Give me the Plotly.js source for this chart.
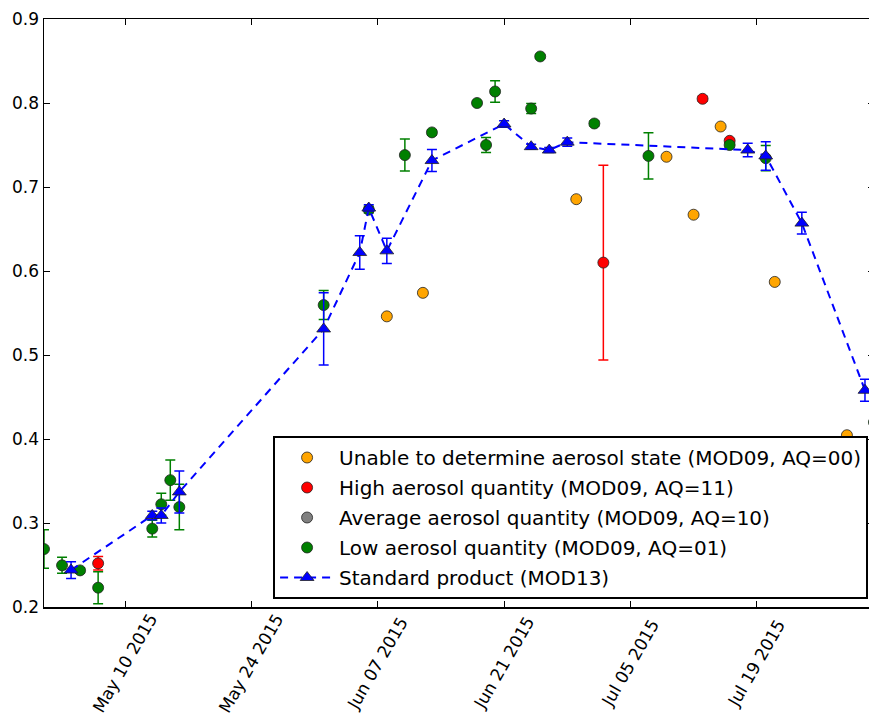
<!DOCTYPE html>
<html><head><meta charset="utf-8">
<script src="https://cdn.plot.ly/plotly-3.0.1.min.js"></script>
<style>html,body{margin:0;padding:0;overflow:hidden;background:#fff;} #chart{width:880px;height:719px;}</style>
</head><body><div id="chart"></div>
<script>
// MOD09, AQ=00 (unable to determine)
const unableDates = ['2015-06-08','2015-06-12','2015-06-29','2015-07-09','2015-07-12','2015-07-15','2015-07-21','2015-07-29'];
const unableValues = [0.546,0.574,0.6855,0.736,0.667,0.772,0.587,0.4045];

// MOD09, AQ=11 (high)
const highDates = ['2015-05-07','2015-07-02','2015-07-13','2015-07-16'];
const highValues = [0.252,0.610,0.805,0.755];
const highErrors = [0.008,0.116,0.003,0.002];

// MOD09, AQ=10 (average) - no points in view
const averageDates = [null];
const averageValues = [null];

// MOD09, AQ=01 (low)
const lowDates = ['2015-05-01','2015-05-03','2015-05-05','2015-05-07','2015-05-13','2015-05-14','2015-05-15','2015-05-16',
  '2015-06-01','2015-06-06','2015-06-10','2015-06-13','2015-06-18','2015-06-19','2015-06-20','2015-06-24','2015-06-25',
  '2015-07-01','2015-07-07','2015-07-16','2015-07-20','2015-08-01'];
const lowValues = [0.269,0.2496,0.2436,0.223,0.2933,0.3223,0.351,0.319,
  0.5595,0.673,0.738,0.765,0.800,0.750,0.8137,0.7934,0.8554,
  0.7756,0.737,0.750,0.7343,0.420];
const lowErrors = [0.023,0.0095,0.003,0.019,0.010,0.013,0.024,0.027,
  0.0172,0.004,0.019,0.003,0.002,0.009,0.0127,0.006,0.002,
  0.003,0.0276,0.003,0.015,0.01];

// MOD13 standard product
const mod13Dates = ['2015-05-04','2015-05-13','2015-05-14','2015-05-16','2015-06-01','2015-06-05','2015-06-06','2015-06-08',
  '2015-06-13','2015-06-21','2015-06-24','2015-06-26','2015-06-28','2015-07-18','2015-07-20','2015-07-24','2015-07-31'];
const mod13Values = [0.244,0.309,0.309,0.337,0.531,0.622,0.675,0.624,
  0.7315,0.775,0.748,0.744,0.7534,0.744,0.737,0.657,0.458];
const mod13Errors = [0.010,0.005,0.009,0.025,0.043,0.020,0.004,0.015,
  0.013,0.004,0.003,0.003,0.005,0.008,0.017,0.013,0.013];

const tickDates = ['2015-05-10','2015-05-24','2015-06-07','2015-06-21','2015-07-05','2015-07-19'];
const tickLabels = ['May 10 2015','May 24 2015','Jun 07 2015','Jun 21 2015','Jul 05 2015','Jul 19 2015'];
const yTickVals = [0.2,0.3,0.4,0.5,0.6,0.7,0.8,0.9];
const yTickText = ['0.2','0.3','0.4','0.5','0.6','0.7','0.8','0.9'];

const FONT = 'DejaVu Sans, sans-serif';
const edge = {color:'#222', width:0.8};

function circleTrace(name, x, y, color, errs, group){
  const t = {type:'scatter', mode:'markers', name:name, x:x, y:y, legendgroup:group,
    marker:{symbol:'circle', size:11, color:color, line:edge}};
  if (errs) t.error_y = {type:'data', array:errs, visible:true, color:color, thickness:1.5, width:5};
  return t;
}

const data = [
  circleTrace('Unable to determine aerosol state (MOD09, AQ=00)', unableDates, unableValues, '#FFA500', null, 'g1'),
  circleTrace('High aerosol quantity (MOD09, AQ=11)', highDates, highValues, '#FF0000', highErrors, 'g2'),
  circleTrace('Average aerosol quantity (MOD09, AQ=10)', averageDates, averageValues, '#808080', null, 'g3'),
  circleTrace('Low aerosol quantity (MOD09, AQ=01)', lowDates, lowValues, '#008000', lowErrors, 'g4'),
  {type:'scatter', mode:'lines+markers', name:'Standard product (MOD13)', x:mod13Dates, y:mod13Values, legendgroup:'g5',
    line:{color:'#0000FF', width:2, dash:'8px,6px'},
    marker:{symbol:'triangle-up', size:12, color:'#0000FF', line:edge},
    error_y:{type:'data', array:mod13Errors, visible:true, color:'#0000FF', thickness:1.5, width:5}}
];

const annotations = tickDates.map((d,i)=>({
  x:d, xref:'x', y:-0.096, yref:'paper', text:tickLabels[i], showarrow:false,
  textangle:-60, xanchor:'center', yanchor:'middle', font:{family:FONT, size:17, color:'#000'}
}));

const layout = {
  width:880, height:719,
  margin:{l:44, r:6, t:19, b:112},
  paper_bgcolor:'#fff', plot_bgcolor:'#fff',
  font:{family:FONT, size:17, color:'#000'},
  showlegend:true,
  xaxis:{type:'date', range:['2015-05-01','2015-08-01'], tickvals:tickDates, ticktext:tickLabels,
    showticklabels:false, ticks:'inside', ticklen:6, tickwidth:1, tickcolor:'#000',
    showline:true, linecolor:'#000', linewidth:1.5, mirror:'ticks', showgrid:false, zeroline:false},
  yaxis:{range:[0.2,0.9], tickvals:yTickVals, ticktext:yTickText, ticks:'inside', ticklen:6, tickwidth:1, tickcolor:'#000',
    showline:true, linecolor:'#000', linewidth:1.5, mirror:'ticks', showgrid:false, zeroline:false,
    tickfont:{family:FONT, size:17, color:'#000'}},
  legend:{x:0.276, y:0.2908, xanchor:'left', yanchor:'top', bgcolor:'#fff', bordercolor:'#000', borderwidth:2,
    font:{family:FONT, size:20, color:'#000'}, traceorder:'grouped', tracegroupgap:1, itemwidth:54},
  annotations:annotations
};

Plotly.newPlot('chart', data, layout, {displayModeBar:false, staticPlot:true});
</script>
</body></html>
